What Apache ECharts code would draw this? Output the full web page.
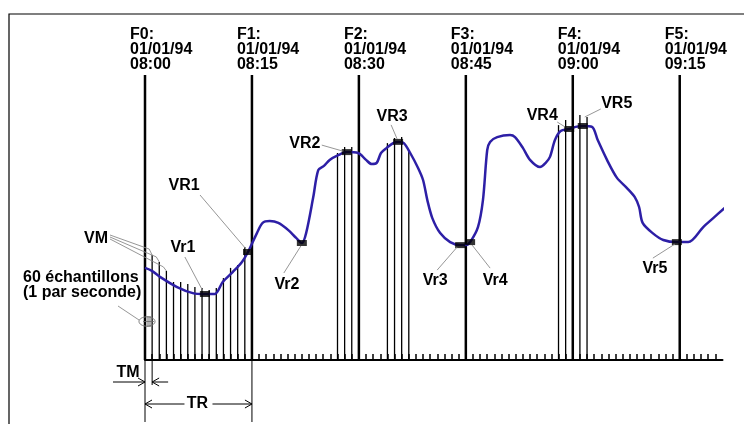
<!DOCTYPE html>
<html>
<head>
<meta charset="utf-8">
<script src="https://cdn.jsdelivr.net/npm/echarts@6/dist/echarts.min.js"></script>
<style>
  html, body { margin: 0; padding: 0; background: #fff; }
  #chart { width: 744px; height: 424px; }
</style>
</head>
<body>
<div id="chart"></div>
<script>
// Time axis in minutes after F0; signal in arbitrary units above the baseline.
const frameMinutes = [0, 15, 30, 45, 60, 75];
const frameNames = ['F0', 'F1', 'F2', 'F3', 'F4', 'F5'];
const frameDates = ['01/01/94', '01/01/94', '01/01/94', '01/01/94', '01/01/94', '01/01/94'];
const frameTimes = ['08:00', '08:15', '08:30', '08:45', '09:00', '09:15'];

// Measured signal (blue trace)
const signalMinutes = [0, 0.98, 2.1, 4.5, 6.7, 8.4, 9.8, 10.9, 12.3, 13.6, 14.45, 15.7, 16.5, 17.5, 18.7,
  20.1, 21.2, 22.0, 22.6, 23.6, 24.3, 25.1, 25.9, 27.1, 28.3, 29.9, 31.0, 31.8, 32.5, 33.1, 33.9,
  34.8, 35.5, 36.3, 37.2, 38.3, 39.0, 39.6, 40.3, 41.4, 42.8, 44.2, 45.0, 45.6, 46.7, 47.4, 48.0,
  48.4, 49.4, 51.2, 51.9, 53.0, 54.0, 55.4, 56.2, 56.8, 57.5, 58.3, 59.5, 60.4, 61.4, 62.7, 63.5,
  64.8, 66.2, 67.6, 68.7, 69.3, 69.8, 71.2, 72.7, 74.6, 76.2, 78.3, 79.7, 81.3];
const signalValues = [30.7, 29.7, 27.7, 24.3, 22.3, 22.0, 22.0, 26.0, 29.3, 32.7, 36.0, 42.3, 45.7, 46.3, 45.7,
  43.3, 40.7, 39.0, 42.3, 54.3, 63.3, 64.7, 66.7, 68.3, 69.3, 69.0, 66.7, 65.3, 65.7, 69.0, 70.7,
  72.3, 72.7, 72.3, 69.0, 64.0, 60.0, 53.3, 47.3, 42.3, 39.3, 38.3, 38.3, 39.3, 44.3, 53.3, 70.0,
  72.7, 74.3, 75.0, 74.3, 70.7, 66.7, 64.3, 65.7, 67.7, 73.3, 76.3, 77.0, 77.7, 78.0, 77.7, 73.3,
  66.7, 60.7, 57.3, 54.3, 51.0, 45.7, 42.3, 40.0, 39.3, 39.3, 44.3, 47.3, 50.7];

// Individual samples (thin verticals)
const sampleMinutes = [1, 2, 3, 4, 5, 6, 7, 8, 9, 10, 11, 12, 13, 14, 27, 28, 29, 34, 35, 36, 37, 58, 59, 61, 62];
const sampleTops = [35.0, 32.7, 29.7, 26.0, 26.0, 25.3, 24.3, 24.0, 23.3, 24.0, 27.3, 30.7, 31.7, 37.7,
  69.0, 71.0, 71.0, 72.3, 74.0, 74.3, 70.0, 78.3, 80.0, 81.7, 81.0];

// Retained values (VR = max, Vr = min)
const markerNames = ['Vr1', 'VR1', 'Vr2', 'VR2', 'VR3', 'Vr3', 'Vr4', 'VR4', 'VR5', 'Vr5'];
const markerMinutes = [8.4, 14.45, 22.0, 28.3, 35.5, 44.2, 45.6, 59.5, 61.4, 74.6];
const markerValues = [22.0, 36.0, 39.0, 69.3, 72.7, 38.3, 39.3, 77.0, 78.0, 39.3];

// One tick per minute along the time axis
const tickMinutes = Array.from({ length: 81 }, (_, i) => i);

// Label placement around each retained value (pixel offsets from the marker)
const calloutLayout = {
  Vr1: { label: [-22, -46], from: [-20, -37], to: [-2, -3] },
  VR1: { label: [-64, -66], from: [-48, -57], to: [-2, -3] },
  Vr2: { label: [-15, 42], from: [-18, 30], to: [-1, 3] },
  VR2: { label: [-42, -9], from: [-25, -7], to: [-4, -1] },
  VR3: { label: [-6, -25], from: [-7, -17], to: [-1, -3] },
  Vr3: { label: [-25, 35], from: [-23, 25], to: [-3, 2] },
  Vr4: { label: [25, 38], from: [20, 26], to: [2, 3] },
  VR4: { label: [-27, -13], from: [-12, -7], to: [-4, -2] },
  VR5: { label: [34, -22], from: [18, -17], to: [2, -9] },
  Vr5: { label: [-22, 26], from: [-24, 16], to: [-2, 2] }
};

const FONT = '"Liberation Sans", Arial, Helvetica, sans-serif';
const LEADER = '#8a8a8a';

function txt(text, x, y, align, vAlign) {
  return {
    type: 'text',
    style: {
      text: text, x: x, y: y, fill: '#000',
      fontFamily: FONT, fontWeight: 'bold', fontSize: 16, lineHeight: 15,
      align: align || 'center', verticalAlign: vAlign || 'middle'
    }
  };
}
function seg(x1, y1, x2, y2, color, width) {
  return {
    type: 'line',
    shape: { x1: x1, y1: y1, x2: x2, y2: y2 },
    style: { stroke: color || '#000', lineWidth: width || 1 }
  };
}
function chevron(x, y, dir) {
  // open arrow head pointing in direction dir (+1 right, -1 left)
  return {
    type: 'polyline',
    shape: { points: [[x - dir * 7, y - 4], [x, y], [x - dir * 7, y + 4]] },
    style: { stroke: '#000', lineWidth: 1, fill: null }
  };
}

const chart = echarts.init(document.getElementById('chart'), null, { renderer: 'canvas' });

chart.setOption({
  animation: false,
  backgroundColor: '#fff',
  grid: { left: 145, right: 21.5, top: 75, bottom: 64 },
  xAxis: {
    type: 'value', min: 0, max: 81, interval: 1,
    axisLine: { show: true, lineStyle: { color: '#000', width: 2 } },
    axisTick: { show: true, inside: true, length: 6, customValues: tickMinutes,
      lineStyle: { color: '#000', width: 1.5 } },
    axisLabel: { show: false },
    splitLine: { show: false }
  },
  yAxis: { type: 'value', min: 0, max: 95, show: false, splitLine: { show: false } },
  graphic: [{
    type: 'rect', z: -10,
    shape: { x: 9, y: 14, width: 780, height: 460 },
    style: { fill: null, stroke: '#000', lineWidth: 1.2 }
  }],
  series: [
    {
      name: 'samples', type: 'custom', clip: false, z: 2,
      data: sampleMinutes.map((m, i) => [m, sampleTops[i]]),
      renderItem: function (params, api) {
        const b = api.coord([api.value(0), 0]);
        const t = api.coord([api.value(0), api.value(1)]);
        return seg(b[0], b[1], t[0], t[1], '#000', 1.3);
      }
    },
    {
      name: 'frames', type: 'custom', clip: false, z: 3,
      data: frameMinutes.map((m, i) => [m, i]),
      renderItem: function (params, api) {
        const i = params.dataIndex;
        const b = api.coord([api.value(0), 0]);
        const t = api.coord([api.value(0), 95]);
        return {
          type: 'group',
          children: [
            seg(b[0], b[1], t[0], t[1], '#000', 2.5),
            txt(frameNames[i] + ':\n' + frameDates[i] + '\n' + frameTimes[i], t[0] - 15, t[1] - 47.5, 'left', 'top')
          ]
        };
      }
    },
    {
      name: 'signal', type: 'line', clip: false, z: 4,
      data: signalMinutes.map((m, i) => [m, signalValues[i]]),
      smooth: 0.3, showSymbol: false, symbol: 'none',
      lineStyle: { color: '#2d1fa6', width: 2.5 }
    },
    {
      name: 'retained', type: 'scatter', z: 5,
      data: markerMinutes.map((m, i) => [m, markerValues[i]]),
      symbol: 'rect', symbolSize: [10, 6],
      itemStyle: { color: '#000' }
    },
    {
      name: 'callouts', type: 'custom', clip: false, z: 6,
      data: markerMinutes.map((m, i) => [m, markerValues[i]]),
      renderItem: function (params, api) {
        const name = markerNames[params.dataIndex];
        const L = calloutLayout[name];
        const p = api.coord([api.value(0), api.value(1)]);
        return {
          type: 'group',
          children: [
            seg(p[0] + L.from[0], p[1] + L.from[1], p[0] + L.to[0], p[1] + L.to[1], LEADER, 0.9),
            txt(name, p[0] + L.label[0], p[1] + L.label[1])
          ]
        };
      }
    },
    {
      name: 'notes', type: 'custom', clip: false, z: 6,
      data: [[0, 0]],
      renderItem: function (params, api) {
        const o = api.coord([0, 0]);
        const f1 = api.coord([15, 0]);
        const s1 = api.coord([1, 0]);
        const tops = [0, 1, 2].map(i => api.coord([sampleMinutes[i], sampleTops[i]]));
        const ox = o[0], oy = o[1];
        const children = [];
        // VM: first measured values
        children.push(txt('VM', ox - 49, oy - 121));
        tops.forEach((t, i) => {
          children.push({
            type: 'polyline',
            shape: { points: [[ox - 35, oy - 125 + i * 2], [t[0] - 3, t[1] - 6 + i], [t[0], t[1]]] },
            style: { stroke: LEADER, lineWidth: 0.9, fill: null }
          });
        });
        // sampling note with ellipse
        children.push(txt('60 échantillons\n(1 par seconde)', ox - 122, oy - 89.5, 'left', 'top'));
        children.push(seg(ox - 27, oy - 54, ox - 6, oy - 40, LEADER, 0.9));
        children.push({
          type: 'ellipse',
          shape: { cx: ox + 2, cy: oy - 38.5, rx: 8, ry: 4.7 },
          style: { stroke: '#777', lineWidth: 1, fill: null }
        });
        children.push(seg(ox + 3, oy - 44, ox + 3, oy - 33, '#666', 1));
        children.push(seg(ox + 5, oy - 44, ox + 5, oy - 33, '#666', 1));
        children.push(seg(ox - 2, oy - 38.5, ox + 9, oy - 38.5, '#666', 0.8));
        // extension lines below the axis
        children.push(seg(ox, oy, ox, oy + 62, '#000', 1));
        children.push(seg(f1[0], oy, f1[0], oy + 62, '#000', 1));
        children.push(seg(s1[0], oy, s1[0], oy + 25, '#000', 1));
        // TM: sampling period
        const yTM = oy + 22;
        children.push(txt('TM', ox - 17, oy + 13));
        children.push(seg(ox - 32, yTM, ox, yTM, '#000', 1));
        children.push(chevron(ox, yTM, 1));
        children.push(seg(s1[0] + 16, yTM, s1[0], yTM, '#000', 1));
        children.push(chevron(s1[0], yTM, -1));
        // TR: retention period
        const yTR = oy + 44;
        const mid = (ox + f1[0]) / 2;
        children.push(seg(ox, yTR, mid - 14, yTR, '#000', 1));
        children.push(seg(mid + 14, yTR, f1[0], yTR, '#000', 1));
        children.push(chevron(ox, yTR, -1));
        children.push(chevron(f1[0], yTR, 1));
        children.push(txt('TR', mid - 1, yTR));
        return { type: 'group', children: children };
      }
    }
  ]
});
</script>
</body>
</html>
